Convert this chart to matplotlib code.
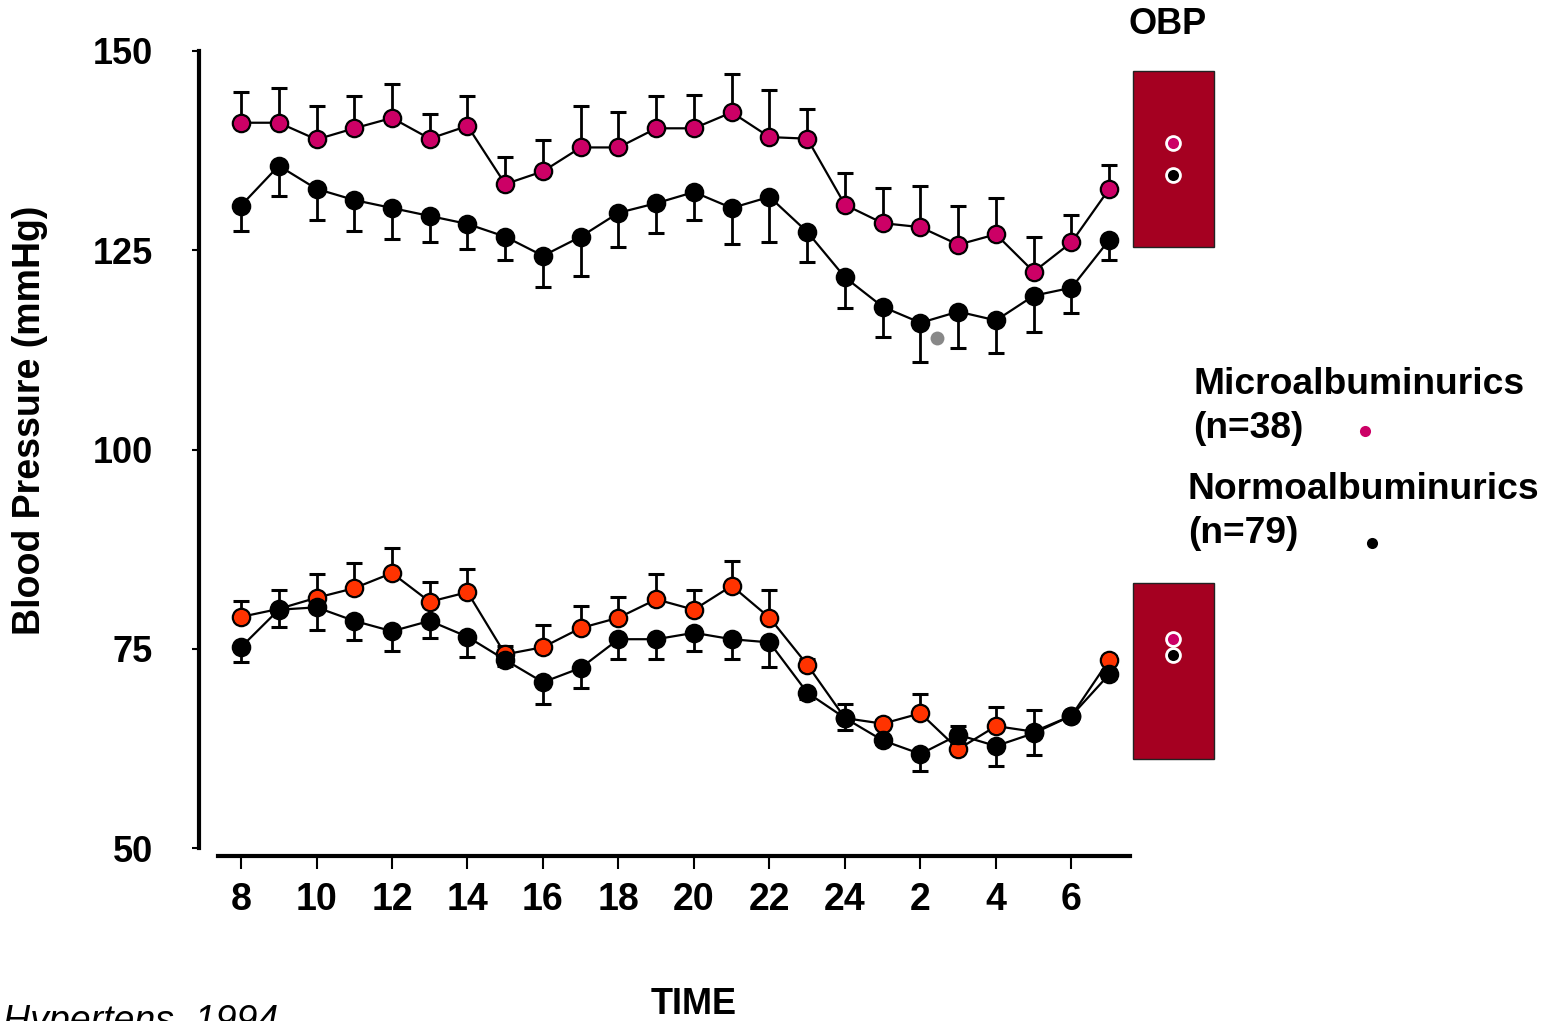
import matplotlib
matplotlib.use("Agg")
import matplotlib.pyplot as plt
from matplotlib.patches import Rectangle
import numpy as np

plt.rcParams['font.family'] = ['Liberation Sans', 'DejaVu Sans']

# clock hours 8..24 then 1..7 (next day), plotted on a continuous axis
hours = np.arange(8, 32)
tick_pos = [8, 10, 12, 14, 16, 18, 20, 22, 24, 26, 28, 30]
tick_lab = ['8', '10', '12', '14', '16', '18', '20', '22', '24', '2', '4', '6']

# systolic
sys_micro = [141.0, 141.0, 138.9, 140.3, 141.6, 139.0, 140.6, 133.3, 134.9, 137.9, 137.9, 140.3,
             140.3, 142.3, 139.2, 139.0, 130.7, 128.4, 127.9, 125.7, 127.0, 122.3, 126.0, 132.7]
sys_micro_se = [3.8, 4.4, 4.2, 4.1, 4.2, 3.1, 3.8, 3.4, 3.9, 5.2, 4.5, 4.1,
                4.2, 4.8, 5.9, 3.7, 4.0, 4.4, 5.2, 4.8, 4.6, 4.4, 3.4, 3.0]
sys_normo = [130.6, 135.6, 132.7, 131.3, 130.3, 129.3, 128.3, 126.7, 124.3, 126.7, 129.7, 130.9,
             132.3, 130.3, 131.7, 127.3, 121.6, 117.9, 115.9, 117.3, 116.2, 119.3, 120.3, 126.3]
sys_normo_se = [3.2, 3.8, 3.9, 3.9, 3.9, 3.3, 3.2, 2.9, 3.9, 4.9, 4.3, 3.7,
                3.5, 4.5, 5.7, 3.8, 3.8, 3.8, 4.9, 4.6, 4.1, 4.6, 3.2, 2.5]

# diastolic
dia_micro = [79.0, 80.0, 81.4, 82.6, 84.5, 80.9, 82.1, 74.3, 75.2, 77.6, 78.9, 81.2,
             79.9, 82.9, 78.9, 73.0, 66.3, 65.6, 66.9, 62.4, 65.3, 64.6, 66.6, 73.6]
dia_micro_se = [2.0, 2.4, 3.0, 3.2, 3.1, 2.5, 2.9, 1.0, 2.8, 2.8, 2.6, 3.2,
                2.5, 3.1, 3.5, 0.7, 1.8, 0.5, 2.4, 2.9, 2.4, 2.7, 0.5, 0.5]
dia_normo = [75.2, 79.9, 80.2, 78.5, 77.2, 78.5, 76.5, 73.6, 70.8, 72.6, 76.2, 76.2,
             77.0, 76.2, 75.8, 69.5, 66.3, 63.5, 61.8, 64.2, 62.8, 64.4, 66.6, 71.8]
dia_normo_se = [1.9, 2.2, 2.8, 2.4, 2.5, 2.2, 2.5, 0.8, 2.7, 2.5, 2.5, 2.5,
                2.3, 2.5, 3.1, 0.8, 1.5, 0.5, 2.1, 1.0, 2.5, 2.7, 0.5, 0.5]

# office blood pressure (OBP)
obp_sys = [138.5, 134.4]   # micro, normo
obp_dia = [76.2, 74.2]

stray_x = [26.45]
stray_y = [114.0]

c_micro = '#CC0066'
c_dia = '#FF3300'
c_box = '#A50021'

fig = plt.figure(figsize=(15.56, 10.21), dpi=100)
ax = fig.add_axes([199/1556, (1021-856)/1021, (1550-199)/1556, (856-51)/1021])
ax.set_xlim(8 + (199-241)/37.75, 8 + (1550-241)/37.75)
ax.set_ylim(49.0, 150)


def series(y, se, fc, up, z):
    y = np.array(y)
    se = np.array(se)
    end = y + se if up else y - se
    ax.vlines(hours, y, end, color='k', lw=2, zorder=z)
    ax.plot(hours, end, ls='none', marker='_', ms=12, mew=2.2, color='k', zorder=z)
    ax.plot(hours, y, '-', color='k', lw=1.6, marker='o', ms=12.5,
            mfc=fc, mec='k', mew=1.6, zorder=z + 1)


series(sys_micro, sys_micro_se, c_micro, True, 3)
series(sys_normo, sys_normo_se, 'k', False, 3)
series(dia_micro, dia_micro_se, c_dia, True, 3)
series(dia_normo, dia_normo_se, 'k', False, 5)

ax.plot(stray_x, stray_y, 'o', color='#888888', ms=10, mec='none', zorder=2)

# OBP boxes
for y0, y1 in [(125.4, 147.5), (61.2, 83.3)]:
    ax.add_patch(Rectangle((31.63, y0), 33.77 - 31.63, y1 - y0, facecolor=c_box,
                           edgecolor='#222222', lw=1, clip_on=False, zorder=2))
obp_x = 32.69
ax.plot([obp_x], [obp_sys[0]], 'o', ms=10, mfc=c_micro, mec='white', mew=2, clip_on=False, zorder=6)
ax.plot([obp_x], [obp_sys[1]], 'o', ms=10, mfc='k', mec='white', mew=2, clip_on=False, zorder=6)
ax.plot([obp_x], [obp_dia[0]], 'o', ms=10, mfc=c_micro, mec='white', mew=2, clip_on=False, zorder=6)
ax.plot([obp_x], [obp_dia[1]], 'o', ms=10, mfc='k', mec='white', mew=2, clip_on=False, zorder=6)

# legend
ax.plot([37.77], [102.3], 'o', ms=8, color=c_micro, mec='none', clip_on=False)
ax.plot([37.96], [88.3], 'o', ms=8, color='k', mec='none', clip_on=False)
fig.text(1193/1556, 1 - 367/1021, 'Microalbuminurics\n(n=38)', fontsize=26.8, fontweight='bold',
         va='top', ha='left', linespacing=1.33)
fig.text(1188/1556, 1 - 472/1021, 'Normoalbuminurics\n(n=79)', fontsize=26.8, fontweight='bold',
         va='top', ha='left', linespacing=1.33)
fig.text(1168/1556, 1 - 25/1021, 'OBP', fontsize=26, fontweight='bold', ha='center', va='center')

# axes styling
for s in ['top', 'right']:
    ax.spines[s].set_visible(False)
ax.spines['left'].set_bounds(50, 150)
ax.spines['left'].set_linewidth(3)
ax.spines['bottom'].set_bounds(7.39, 31.55)
ax.spines['bottom'].set_linewidth(3)
ax.set_yticks([50, 75, 100, 125, 150])
ax.set_xticks(tick_pos)
ax.set_xticklabels(tick_lab)
ax.tick_params(axis='y', direction='out', length=5, width=1.5, pad=28, labelsize=26)
ax.tick_params(axis='x', direction='out', length=9, width=1.5, pad=10, labelsize=27)
for lab in ax.get_xticklabels() + ax.get_yticklabels():
    lab.set_fontweight('bold')

fig.text(30/1556, 1 - 420/1021, 'Blood Pressure (mmHg)', rotation=90, fontsize=27,
         fontweight='bold', ha='center', va='center')
fig.text(694/1556, 1 - 1014/1021, 'TIME', fontsize=26, fontweight='bold', ha='center', va='baseline')
fig.text(3/1556, -11/1021, 'Hypertens. 1994', fontsize=27, style='italic', ha='left', va='baseline')

fig.savefig('out.png', dpi=100)
